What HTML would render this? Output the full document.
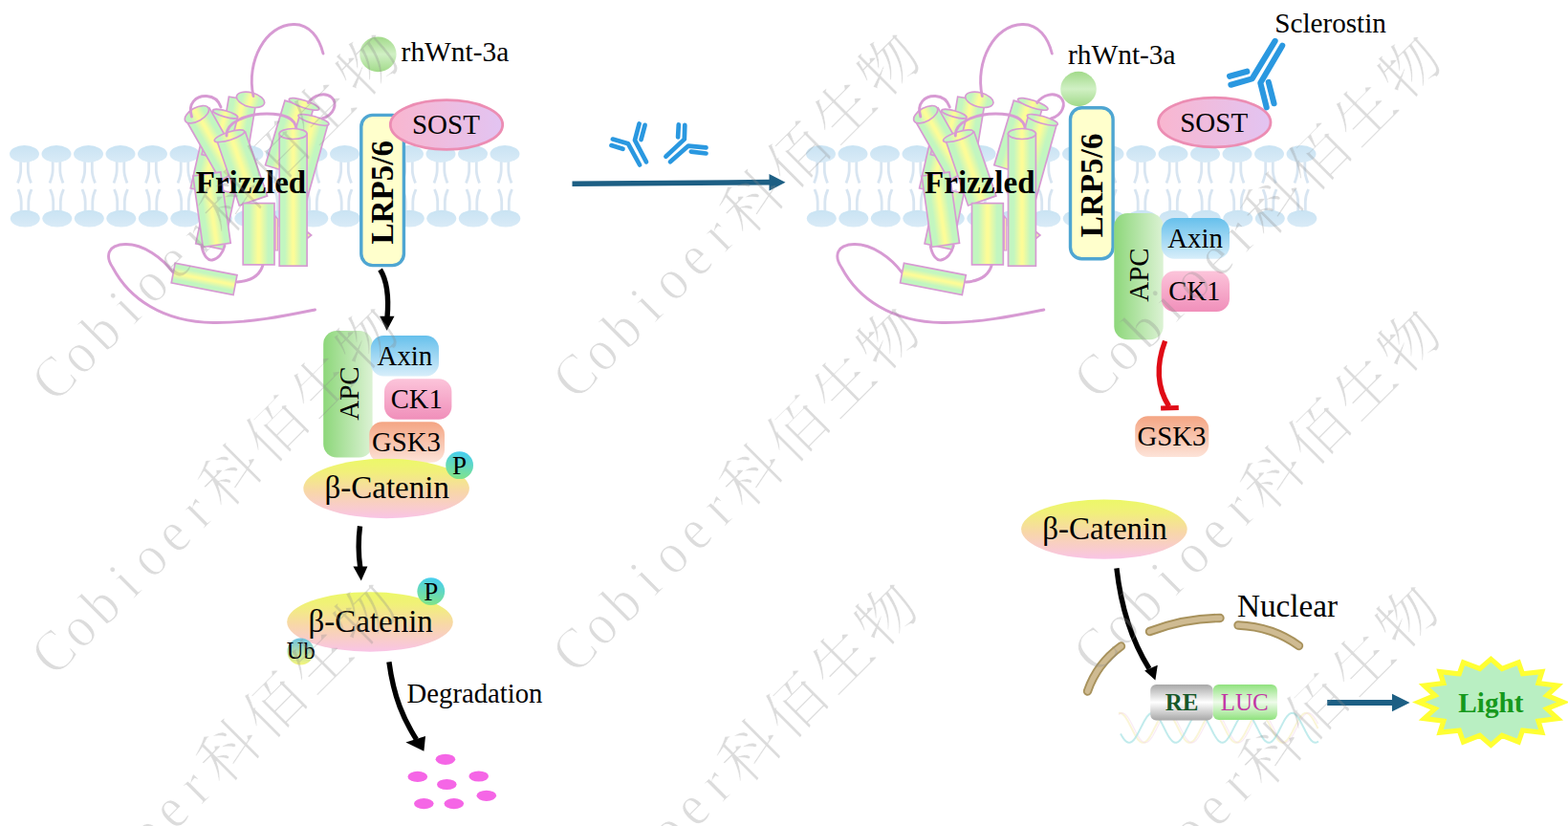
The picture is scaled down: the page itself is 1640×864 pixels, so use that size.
<!DOCTYPE html>
<html lang="en"><head><meta charset="utf-8"><title>Wnt signaling reporter assay</title>
<style>
html,body{margin:0;padding:0;background:#fff;}
body{width:1640px;height:864px;overflow:hidden;font-family:"Liberation Serif","Noto Serif CJK SC",serif;}
svg{display:block;}
</style></head><body>
<svg width="1640" height="864" viewBox="0 0 1640 864" role="img" aria-label="Wnt signaling reporter assay diagram">
<rect width="1640" height="864" fill="#fff"/>

<defs>
<linearGradient id="gHead" x1="0" y1="0" x2="0" y2="1"><stop offset="0" stop-color="#c9e3f3"/><stop offset="1" stop-color="#d9ebf7"/></linearGradient>
<linearGradient id="gCyl" x1="0" y1="0" x2="1" y2="0"><stop offset="0" stop-color="#c2f6c0"/><stop offset="0.2" stop-color="#c2f6c0"/><stop offset="0.47" stop-color="#fcfc98"/><stop offset="0.53" stop-color="#fcfc98"/><stop offset="0.8" stop-color="#c2f6c0"/><stop offset="1" stop-color="#c2f6c0"/></linearGradient>
<linearGradient id="gCylV" x1="0" y1="0" x2="0" y2="1"><stop offset="0" stop-color="#c2f6c0"/><stop offset="0.2" stop-color="#c2f6c0"/><stop offset="0.47" stop-color="#fcfc98"/><stop offset="0.53" stop-color="#fcfc98"/><stop offset="0.8" stop-color="#c2f6c0"/><stop offset="1" stop-color="#c2f6c0"/></linearGradient>
<linearGradient id="gSost" x1="0" y1="0" x2="1" y2="0"><stop offset="0" stop-color="#f9b6cf"/><stop offset="1" stop-color="#e2c4f2"/></linearGradient>
<linearGradient id="gApc" x1="0" y1="0" x2="1" y2="0"><stop offset="0" stop-color="#8dd77a"/><stop offset="1" stop-color="#dcf2d4"/></linearGradient>
<linearGradient id="gAxin" x1="0" y1="0" x2="0" y2="1"><stop offset="0" stop-color="#66c0ec"/><stop offset="1" stop-color="#d8eefa"/></linearGradient>
<linearGradient id="gCk" x1="0" y1="0" x2="0" y2="1"><stop offset="0" stop-color="#fcc4da"/><stop offset="1" stop-color="#f08fba"/></linearGradient>
<linearGradient id="gGsk" x1="0" y1="0" x2="0" y2="1"><stop offset="0" stop-color="#f4a583"/><stop offset="1" stop-color="#fde3d8"/></linearGradient>
<linearGradient id="gCat" x1="0" y1="0" x2="0" y2="1"><stop offset="0" stop-color="#ecf868"/><stop offset="0.22" stop-color="#f1f07a"/><stop offset="0.55" stop-color="#f8d7a8"/><stop offset="1" stop-color="#f9c4e6"/></linearGradient>
<linearGradient id="gP" x1="0.6" y1="0" x2="0.4" y2="1"><stop offset="0" stop-color="#46cef2"/><stop offset="1" stop-color="#82e486"/></linearGradient>
<linearGradient id="gUb" x1="0" y1="0" x2="0" y2="1"><stop offset="0" stop-color="#6cc4e4"/><stop offset="1" stop-color="#f6f67a"/></linearGradient>
<linearGradient id="gWnt" x1="0" y1="0" x2="0" y2="1"><stop offset="0" stop-color="#a2da8a"/><stop offset="0.5" stop-color="#d0f0c4"/><stop offset="1" stop-color="#a2da8a"/></linearGradient>
<linearGradient id="gRE" x1="0" y1="0" x2="0" y2="1"><stop offset="0" stop-color="#a8a8a8"/><stop offset="0.5" stop-color="#ffffff"/><stop offset="1" stop-color="#a8a8a8"/></linearGradient>
<linearGradient id="gLUC" x1="0" y1="0" x2="0" y2="1"><stop offset="0" stop-color="#90e27e"/><stop offset="0.5" stop-color="#eefbea"/><stop offset="1" stop-color="#90e27e"/></linearGradient>
</defs>

<g>
<path d="M21.7,168 V178 Q21.7,183 18.5,191.5 M29.3,168 V178 Q29.3,183 32.5,191.5 M19.0,198 Q22.2,205 22.2,211 V222 M33.0,198 Q29.8,205 29.8,211 V222" fill="none" stroke="#d8e5f1" stroke-width="2.8"/>
<ellipse cx="25.5" cy="161" rx="15.5" ry="8.9" fill="url(#gHead)"/>
<ellipse cx="26.3" cy="228.6" rx="15.5" ry="8.9" fill="url(#gHead)"/>
<path d="M55.2,168 V178 Q55.2,183 52.0,191.5 M62.8,168 V178 Q62.8,183 66.0,191.5 M52.5,198 Q55.7,205 55.7,211 V222 M66.5,198 Q63.3,205 63.3,211 V222" fill="none" stroke="#d8e5f1" stroke-width="2.8"/>
<ellipse cx="59.0" cy="161" rx="15.5" ry="8.9" fill="url(#gHead)"/>
<ellipse cx="59.8" cy="228.6" rx="15.5" ry="8.9" fill="url(#gHead)"/>
<path d="M88.7,168 V178 Q88.7,183 85.5,191.5 M96.3,168 V178 Q96.3,183 99.5,191.5 M86.0,198 Q89.2,205 89.2,211 V222 M100.0,198 Q96.8,205 96.8,211 V222" fill="none" stroke="#d8e5f1" stroke-width="2.8"/>
<ellipse cx="92.5" cy="161" rx="15.5" ry="8.9" fill="url(#gHead)"/>
<ellipse cx="93.3" cy="228.6" rx="15.5" ry="8.9" fill="url(#gHead)"/>
<path d="M122.2,168 V178 Q122.2,183 119.0,191.5 M129.8,168 V178 Q129.8,183 133.0,191.5 M119.5,198 Q122.7,205 122.7,211 V222 M133.5,198 Q130.3,205 130.3,211 V222" fill="none" stroke="#d8e5f1" stroke-width="2.8"/>
<ellipse cx="126.0" cy="161" rx="15.5" ry="8.9" fill="url(#gHead)"/>
<ellipse cx="126.8" cy="228.6" rx="15.5" ry="8.9" fill="url(#gHead)"/>
<path d="M155.7,168 V178 Q155.7,183 152.5,191.5 M163.3,168 V178 Q163.3,183 166.5,191.5 M153.0,198 Q156.2,205 156.2,211 V222 M167.0,198 Q163.8,205 163.8,211 V222" fill="none" stroke="#d8e5f1" stroke-width="2.8"/>
<ellipse cx="159.5" cy="161" rx="15.5" ry="8.9" fill="url(#gHead)"/>
<ellipse cx="160.3" cy="228.6" rx="15.5" ry="8.9" fill="url(#gHead)"/>
<path d="M189.2,168 V178 Q189.2,183 186.0,191.5 M196.8,168 V178 Q196.8,183 200.0,191.5 M186.5,198 Q189.7,205 189.7,211 V222 M200.5,198 Q197.3,205 197.3,211 V222" fill="none" stroke="#d8e5f1" stroke-width="2.8"/>
<ellipse cx="193.0" cy="161" rx="15.5" ry="8.9" fill="url(#gHead)"/>
<ellipse cx="193.8" cy="228.6" rx="15.5" ry="8.9" fill="url(#gHead)"/>
<path d="M222.7,168 V178 Q222.7,183 219.5,191.5 M230.3,168 V178 Q230.3,183 233.5,191.5 M220.0,198 Q223.2,205 223.2,211 V222 M234.0,198 Q230.8,205 230.8,211 V222" fill="none" stroke="#d8e5f1" stroke-width="2.8"/>
<ellipse cx="226.5" cy="161" rx="15.5" ry="8.9" fill="url(#gHead)"/>
<ellipse cx="227.3" cy="228.6" rx="15.5" ry="8.9" fill="url(#gHead)"/>
<path d="M256.2,168 V178 Q256.2,183 253.0,191.5 M263.8,168 V178 Q263.8,183 267.0,191.5 M253.5,198 Q256.7,205 256.7,211 V222 M267.5,198 Q264.3,205 264.3,211 V222" fill="none" stroke="#d8e5f1" stroke-width="2.8"/>
<ellipse cx="260.0" cy="161" rx="15.5" ry="8.9" fill="url(#gHead)"/>
<ellipse cx="260.8" cy="228.6" rx="15.5" ry="8.9" fill="url(#gHead)"/>
<path d="M289.7,168 V178 Q289.7,183 286.5,191.5 M297.3,168 V178 Q297.3,183 300.5,191.5 M287.0,198 Q290.2,205 290.2,211 V222 M301.0,198 Q297.8,205 297.8,211 V222" fill="none" stroke="#d8e5f1" stroke-width="2.8"/>
<ellipse cx="293.5" cy="161" rx="15.5" ry="8.9" fill="url(#gHead)"/>
<ellipse cx="294.3" cy="228.6" rx="15.5" ry="8.9" fill="url(#gHead)"/>
<path d="M323.2,168 V178 Q323.2,183 320.0,191.5 M330.8,168 V178 Q330.8,183 334.0,191.5 M320.5,198 Q323.7,205 323.7,211 V222 M334.5,198 Q331.3,205 331.3,211 V222" fill="none" stroke="#d8e5f1" stroke-width="2.8"/>
<ellipse cx="327.0" cy="161" rx="15.5" ry="8.9" fill="url(#gHead)"/>
<ellipse cx="327.8" cy="228.6" rx="15.5" ry="8.9" fill="url(#gHead)"/>
<path d="M356.7,168 V178 Q356.7,183 353.5,191.5 M364.3,168 V178 Q364.3,183 367.5,191.5 M354.0,198 Q357.2,205 357.2,211 V222 M368.0,198 Q364.8,205 364.8,211 V222" fill="none" stroke="#d8e5f1" stroke-width="2.8"/>
<ellipse cx="360.5" cy="161" rx="15.5" ry="8.9" fill="url(#gHead)"/>
<ellipse cx="361.3" cy="228.6" rx="15.5" ry="8.9" fill="url(#gHead)"/>
<path d="M390.2,168 V178 Q390.2,183 387.0,191.5 M397.8,168 V178 Q397.8,183 401.0,191.5 M387.5,198 Q390.7,205 390.7,211 V222 M401.5,198 Q398.3,205 398.3,211 V222" fill="none" stroke="#d8e5f1" stroke-width="2.8"/>
<ellipse cx="394.0" cy="161" rx="15.5" ry="8.9" fill="url(#gHead)"/>
<ellipse cx="394.8" cy="228.6" rx="15.5" ry="8.9" fill="url(#gHead)"/>
<path d="M423.7,168 V178 Q423.7,183 420.5,191.5 M431.3,168 V178 Q431.3,183 434.5,191.5 M421.0,198 Q424.2,205 424.2,211 V222 M435.0,198 Q431.8,205 431.8,211 V222" fill="none" stroke="#d8e5f1" stroke-width="2.8"/>
<ellipse cx="427.5" cy="161" rx="15.5" ry="8.9" fill="url(#gHead)"/>
<ellipse cx="428.3" cy="228.6" rx="15.5" ry="8.9" fill="url(#gHead)"/>
<path d="M457.2,168 V178 Q457.2,183 454.0,191.5 M464.8,168 V178 Q464.8,183 468.0,191.5 M454.5,198 Q457.7,205 457.7,211 V222 M468.5,198 Q465.3,205 465.3,211 V222" fill="none" stroke="#d8e5f1" stroke-width="2.8"/>
<ellipse cx="461.0" cy="161" rx="15.5" ry="8.9" fill="url(#gHead)"/>
<ellipse cx="461.8" cy="228.6" rx="15.5" ry="8.9" fill="url(#gHead)"/>
<path d="M490.7,168 V178 Q490.7,183 487.5,191.5 M498.3,168 V178 Q498.3,183 501.5,191.5 M488.0,198 Q491.2,205 491.2,211 V222 M502.0,198 Q498.8,205 498.8,211 V222" fill="none" stroke="#d8e5f1" stroke-width="2.8"/>
<ellipse cx="494.5" cy="161" rx="15.5" ry="8.9" fill="url(#gHead)"/>
<ellipse cx="495.3" cy="228.6" rx="15.5" ry="8.9" fill="url(#gHead)"/>
<path d="M524.2,168 V178 Q524.2,183 521.0,191.5 M531.8,168 V178 Q531.8,183 535.0,191.5 M521.5,198 Q524.7,205 524.7,211 V222 M535.5,198 Q532.3,205 532.3,211 V222" fill="none" stroke="#d8e5f1" stroke-width="2.8"/>
<ellipse cx="528.0" cy="161" rx="15.5" ry="8.9" fill="url(#gHead)"/>
<ellipse cx="528.8" cy="228.6" rx="15.5" ry="8.9" fill="url(#gHead)"/>
</g>
<g>
<path d="M854.7,168 V178 Q854.7,183 851.5,191.5 M862.3,168 V178 Q862.3,183 865.5,191.5 M852.0,198 Q855.2,205 855.2,211 V222 M866.0,198 Q862.8,205 862.8,211 V222" fill="none" stroke="#d8e5f1" stroke-width="2.8"/>
<ellipse cx="858.5" cy="161" rx="15.5" ry="8.9" fill="url(#gHead)"/>
<ellipse cx="859.3" cy="228.6" rx="15.5" ry="8.9" fill="url(#gHead)"/>
<path d="M888.2,168 V178 Q888.2,183 885.0,191.5 M895.8,168 V178 Q895.8,183 899.0,191.5 M885.5,198 Q888.7,205 888.7,211 V222 M899.5,198 Q896.3,205 896.3,211 V222" fill="none" stroke="#d8e5f1" stroke-width="2.8"/>
<ellipse cx="892.0" cy="161" rx="15.5" ry="8.9" fill="url(#gHead)"/>
<ellipse cx="892.8" cy="228.6" rx="15.5" ry="8.9" fill="url(#gHead)"/>
<path d="M921.7,168 V178 Q921.7,183 918.5,191.5 M929.3,168 V178 Q929.3,183 932.5,191.5 M919.0,198 Q922.2,205 922.2,211 V222 M933.0,198 Q929.8,205 929.8,211 V222" fill="none" stroke="#d8e5f1" stroke-width="2.8"/>
<ellipse cx="925.5" cy="161" rx="15.5" ry="8.9" fill="url(#gHead)"/>
<ellipse cx="926.3" cy="228.6" rx="15.5" ry="8.9" fill="url(#gHead)"/>
<path d="M955.2,168 V178 Q955.2,183 952.0,191.5 M962.8,168 V178 Q962.8,183 966.0,191.5 M952.5,198 Q955.7,205 955.7,211 V222 M966.5,198 Q963.3,205 963.3,211 V222" fill="none" stroke="#d8e5f1" stroke-width="2.8"/>
<ellipse cx="959.0" cy="161" rx="15.5" ry="8.9" fill="url(#gHead)"/>
<ellipse cx="959.8" cy="228.6" rx="15.5" ry="8.9" fill="url(#gHead)"/>
<path d="M988.7,168 V178 Q988.7,183 985.5,191.5 M996.3,168 V178 Q996.3,183 999.5,191.5 M986.0,198 Q989.2,205 989.2,211 V222 M1000.0,198 Q996.8,205 996.8,211 V222" fill="none" stroke="#d8e5f1" stroke-width="2.8"/>
<ellipse cx="992.5" cy="161" rx="15.5" ry="8.9" fill="url(#gHead)"/>
<ellipse cx="993.3" cy="228.6" rx="15.5" ry="8.9" fill="url(#gHead)"/>
<path d="M1022.2,168 V178 Q1022.2,183 1019.0,191.5 M1029.8,168 V178 Q1029.8,183 1033.0,191.5 M1019.5,198 Q1022.7,205 1022.7,211 V222 M1033.5,198 Q1030.3,205 1030.3,211 V222" fill="none" stroke="#d8e5f1" stroke-width="2.8"/>
<ellipse cx="1026.0" cy="161" rx="15.5" ry="8.9" fill="url(#gHead)"/>
<ellipse cx="1026.8" cy="228.6" rx="15.5" ry="8.9" fill="url(#gHead)"/>
<path d="M1055.7,168 V178 Q1055.7,183 1052.5,191.5 M1063.3,168 V178 Q1063.3,183 1066.5,191.5 M1053.0,198 Q1056.2,205 1056.2,211 V222 M1067.0,198 Q1063.8,205 1063.8,211 V222" fill="none" stroke="#d8e5f1" stroke-width="2.8"/>
<ellipse cx="1059.5" cy="161" rx="15.5" ry="8.9" fill="url(#gHead)"/>
<ellipse cx="1060.3" cy="228.6" rx="15.5" ry="8.9" fill="url(#gHead)"/>
<path d="M1089.2,168 V178 Q1089.2,183 1086.0,191.5 M1096.8,168 V178 Q1096.8,183 1100.0,191.5 M1086.5,198 Q1089.7,205 1089.7,211 V222 M1100.5,198 Q1097.3,205 1097.3,211 V222" fill="none" stroke="#d8e5f1" stroke-width="2.8"/>
<ellipse cx="1093.0" cy="161" rx="15.5" ry="8.9" fill="url(#gHead)"/>
<ellipse cx="1093.8" cy="228.6" rx="15.5" ry="8.9" fill="url(#gHead)"/>
<path d="M1122.7,168 V178 Q1122.7,183 1119.5,191.5 M1130.3,168 V178 Q1130.3,183 1133.5,191.5 M1120.0,198 Q1123.2,205 1123.2,211 V222 M1134.0,198 Q1130.8,205 1130.8,211 V222" fill="none" stroke="#d8e5f1" stroke-width="2.8"/>
<ellipse cx="1126.5" cy="161" rx="15.5" ry="8.9" fill="url(#gHead)"/>
<ellipse cx="1127.3" cy="228.6" rx="15.5" ry="8.9" fill="url(#gHead)"/>
<path d="M1156.2,168 V178 Q1156.2,183 1153.0,191.5 M1163.8,168 V178 Q1163.8,183 1167.0,191.5 M1153.5,198 Q1156.7,205 1156.7,211 V222 M1167.5,198 Q1164.3,205 1164.3,211 V222" fill="none" stroke="#d8e5f1" stroke-width="2.8"/>
<ellipse cx="1160.0" cy="161" rx="15.5" ry="8.9" fill="url(#gHead)"/>
<ellipse cx="1160.8" cy="228.6" rx="15.5" ry="8.9" fill="url(#gHead)"/>
<path d="M1189.7,168 V178 Q1189.7,183 1186.5,191.5 M1197.3,168 V178 Q1197.3,183 1200.5,191.5 M1187.0,198 Q1190.2,205 1190.2,211 V222 M1201.0,198 Q1197.8,205 1197.8,211 V222" fill="none" stroke="#d8e5f1" stroke-width="2.8"/>
<ellipse cx="1193.5" cy="161" rx="15.5" ry="8.9" fill="url(#gHead)"/>
<ellipse cx="1194.3" cy="228.6" rx="15.5" ry="8.9" fill="url(#gHead)"/>
<path d="M1223.2,168 V178 Q1223.2,183 1220.0,191.5 M1230.8,168 V178 Q1230.8,183 1234.0,191.5 M1220.5,198 Q1223.7,205 1223.7,211 V222 M1234.5,198 Q1231.3,205 1231.3,211 V222" fill="none" stroke="#d8e5f1" stroke-width="2.8"/>
<ellipse cx="1227.0" cy="161" rx="15.5" ry="8.9" fill="url(#gHead)"/>
<ellipse cx="1227.8" cy="228.6" rx="15.5" ry="8.9" fill="url(#gHead)"/>
<path d="M1256.7,168 V178 Q1256.7,183 1253.5,191.5 M1264.3,168 V178 Q1264.3,183 1267.5,191.5 M1254.0,198 Q1257.2,205 1257.2,211 V222 M1268.0,198 Q1264.8,205 1264.8,211 V222" fill="none" stroke="#d8e5f1" stroke-width="2.8"/>
<ellipse cx="1260.5" cy="161" rx="15.5" ry="8.9" fill="url(#gHead)"/>
<ellipse cx="1261.3" cy="228.6" rx="15.5" ry="8.9" fill="url(#gHead)"/>
<path d="M1290.2,168 V178 Q1290.2,183 1287.0,191.5 M1297.8,168 V178 Q1297.8,183 1301.0,191.5 M1287.5,198 Q1290.7,205 1290.7,211 V222 M1301.5,198 Q1298.3,205 1298.3,211 V222" fill="none" stroke="#d8e5f1" stroke-width="2.8"/>
<ellipse cx="1294.0" cy="161" rx="15.5" ry="8.9" fill="url(#gHead)"/>
<ellipse cx="1294.8" cy="228.6" rx="15.5" ry="8.9" fill="url(#gHead)"/>
<path d="M1323.7,168 V178 Q1323.7,183 1320.5,191.5 M1331.3,168 V178 Q1331.3,183 1334.5,191.5 M1321.0,198 Q1324.2,205 1324.2,211 V222 M1335.0,198 Q1331.8,205 1331.8,211 V222" fill="none" stroke="#d8e5f1" stroke-width="2.8"/>
<ellipse cx="1327.5" cy="161" rx="15.5" ry="8.9" fill="url(#gHead)"/>
<ellipse cx="1328.3" cy="228.6" rx="15.5" ry="8.9" fill="url(#gHead)"/>
<path d="M1357.2,168 V178 Q1357.2,183 1354.0,191.5 M1364.8,168 V178 Q1364.8,183 1368.0,191.5 M1354.5,198 Q1357.7,205 1357.7,211 V222 M1368.5,198 Q1365.3,205 1365.3,211 V222" fill="none" stroke="#d8e5f1" stroke-width="2.8"/>
<ellipse cx="1361.0" cy="161" rx="15.5" ry="8.9" fill="url(#gHead)"/>
<ellipse cx="1361.8" cy="228.6" rx="15.5" ry="8.9" fill="url(#gHead)"/>
</g>
<g transform="translate(0,0)">
<path d="M181,285 C170,270 150,255 131,255.5 C112,256 110,268 118,280 C135,312 170,337 223,337.5 C262,338 300,330 329.5,324" fill="none" stroke="#d79ad3" stroke-width="2.9" stroke-linecap="round"/>
<path d="M248,295 C262,294 272,288 275,277" fill="none" stroke="#d79ad3" stroke-width="2.9" stroke-linecap="round"/>
<path d="M211,258 C213,268 218,273 222,272 C228,271 233,265 235,257" fill="none" stroke="#d79ad3" stroke-width="2.9" stroke-linecap="round"/>
<g transform="translate(231.6,199.3) rotate(12.0)"><rect x="-14.7" y="0" width="29.3" height="60.0" fill="url(#gCyl)" stroke="#d79ad3" stroke-width="1.7"/></g>
<g transform="translate(224.0,151.0) rotate(12.7)"><rect x="-14.0" y="0" width="28.0" height="50.2" fill="url(#gCyl)" stroke="#d79ad3" stroke-width="1.7"/></g>
<g transform="translate(253.7,103.5) rotate(9.4)"><rect x="-14.5" y="0" width="29.0" height="65.4" fill="url(#gCyl)" stroke="#d79ad3" stroke-width="1.7"/></g><ellipse cx="0" cy="0" rx="15" ry="7.5" fill="url(#gCyl)" stroke="#d79ad3" stroke-width="1.7" transform="translate(262,104.3) rotate(14.8)"/>
<g transform="translate(235.6,119.1) rotate(14.2)"><rect x="-13.4" y="0" width="26.8" height="47.3" fill="url(#gCyl)" stroke="#d79ad3" stroke-width="1.7"/></g><ellipse cx="0" cy="0" rx="13.4" ry="3.2" fill="url(#gCyl)" stroke="#d79ad3" stroke-width="1.7" transform="translate(235.6,119.1) rotate(15.5)"/>
<g transform="translate(312.8,109.6) rotate(16.8)"><rect x="-15.5" y="0" width="31.0" height="70.7" fill="url(#gCyl)" stroke="#d79ad3" stroke-width="1.7"/></g><ellipse cx="0" cy="0" rx="16.5" ry="3.8" fill="url(#gCyl)" stroke="#d79ad3" stroke-width="1.7" transform="translate(318,108.9) rotate(18.4)"/>
<g transform="translate(328.0,126.0) rotate(15.6)"><rect x="-15.5" y="0" width="31.0" height="82.0" fill="url(#gCyl)" stroke="#d79ad3" stroke-width="1.7"/></g><ellipse cx="0" cy="0" rx="16.6" ry="3.8" fill="url(#gCyl)" stroke="#d79ad3" stroke-width="1.7" transform="translate(328,125.4) rotate(16.3)"/>
<g transform="translate(207.0,119.7) rotate(-29.7)"><rect x="-13.8" y="0" width="27.5" height="71.7" fill="url(#gCyl)" stroke="#d79ad3" stroke-width="1.7"/></g><ellipse cx="0" cy="0" rx="13.9" ry="7" fill="url(#gCyl)" stroke="#d79ad3" stroke-width="1.7" transform="translate(205.9,119.7) rotate(-29.6)"/>
<g transform="translate(216.3,182.1) rotate(-8.0)"><rect x="-14.6" y="0" width="29.2" height="75.0" fill="url(#gCyl)" stroke="#d79ad3" stroke-width="1.7"/></g>
<g transform="translate(241.9,143.1) rotate(-19.0)"><rect x="-15.5" y="0" width="31.0" height="70.7" fill="url(#gCyl)" stroke="#d79ad3" stroke-width="1.7"/></g><ellipse cx="0" cy="0" rx="16.4" ry="4.2" fill="url(#gCyl)" stroke="#d79ad3" stroke-width="1.7" transform="translate(240,142.2) rotate(-17.5)"/>
<path d="M237,142 C236,128 258,119 279,119 C298,119 309,124 310,135" fill="none" stroke="#d79ad3" stroke-width="2.9" stroke-linecap="round"/>
<g transform="translate(270.6,212.6) rotate(0.0)"><rect x="-16.4" y="0" width="32.8" height="64.3" fill="url(#gCyl)" stroke="#d79ad3" stroke-width="1.7"/></g>
<path d="M320,241.5 L325.6,246 L320,250.5 z" fill="#e9f7a8" stroke="#d79ad3" stroke-width="1.7" stroke-linejoin="miter"/>
<path d="M288,226 L290.5,229 L290.5,262 L288,262 z" fill="#fbe9b0" stroke="#d79ad3" stroke-width="1.2"/>
<g transform="translate(306.6,140.0) rotate(0.0)"><rect x="-14.4" y="0" width="28.9" height="138.2" fill="url(#gCyl)" stroke="#d79ad3" stroke-width="1.7"/></g><ellipse cx="0" cy="0" rx="14.45" ry="5.5" fill="url(#gCyl)" stroke="#d79ad3" stroke-width="1.7" transform="translate(306.6,140) rotate(0)"/>
<g transform="translate(181.2,285.6) rotate(10.9)"><rect x="0" y="-10.5" width="66" height="21" fill="url(#gCylV)" stroke="#d79ad3" stroke-width="1.7"/></g>
<path d="M200.5,122 C196,108 205,100 216,100.5 C224,101 229,106 231,112" fill="none" stroke="#d79ad3" stroke-width="2.9" stroke-linecap="round"/>
<path d="M322.5,107.5 C328,99 340,96 347,102 C353,108 350,120 337,124" fill="none" stroke="#d79ad3" stroke-width="2.9" stroke-linecap="round"/>
<path d="M265,100.5 C257,64 278,26 307,25.5 C324,25 334,40 338,56" fill="none" stroke="#d79ad3" stroke-width="2.9" stroke-linecap="round"/>
</g>
<g transform="translate(762.3,0)">
<path d="M181,285 C170,270 150,255 131,255.5 C112,256 110,268 118,280 C135,312 170,337 223,337.5 C262,338 300,330 329.5,324" fill="none" stroke="#d79ad3" stroke-width="2.9" stroke-linecap="round"/>
<path d="M248,295 C262,294 272,288 275,277" fill="none" stroke="#d79ad3" stroke-width="2.9" stroke-linecap="round"/>
<path d="M211,258 C213,268 218,273 222,272 C228,271 233,265 235,257" fill="none" stroke="#d79ad3" stroke-width="2.9" stroke-linecap="round"/>
<g transform="translate(231.6,199.3) rotate(12.0)"><rect x="-14.7" y="0" width="29.3" height="60.0" fill="url(#gCyl)" stroke="#d79ad3" stroke-width="1.7"/></g>
<g transform="translate(224.0,151.0) rotate(12.7)"><rect x="-14.0" y="0" width="28.0" height="50.2" fill="url(#gCyl)" stroke="#d79ad3" stroke-width="1.7"/></g>
<g transform="translate(253.7,103.5) rotate(9.4)"><rect x="-14.5" y="0" width="29.0" height="65.4" fill="url(#gCyl)" stroke="#d79ad3" stroke-width="1.7"/></g><ellipse cx="0" cy="0" rx="15" ry="7.5" fill="url(#gCyl)" stroke="#d79ad3" stroke-width="1.7" transform="translate(262,104.3) rotate(14.8)"/>
<g transform="translate(235.6,119.1) rotate(14.2)"><rect x="-13.4" y="0" width="26.8" height="47.3" fill="url(#gCyl)" stroke="#d79ad3" stroke-width="1.7"/></g><ellipse cx="0" cy="0" rx="13.4" ry="3.2" fill="url(#gCyl)" stroke="#d79ad3" stroke-width="1.7" transform="translate(235.6,119.1) rotate(15.5)"/>
<g transform="translate(312.8,109.6) rotate(16.8)"><rect x="-15.5" y="0" width="31.0" height="70.7" fill="url(#gCyl)" stroke="#d79ad3" stroke-width="1.7"/></g><ellipse cx="0" cy="0" rx="16.5" ry="3.8" fill="url(#gCyl)" stroke="#d79ad3" stroke-width="1.7" transform="translate(318,108.9) rotate(18.4)"/>
<g transform="translate(328.0,126.0) rotate(15.6)"><rect x="-15.5" y="0" width="31.0" height="82.0" fill="url(#gCyl)" stroke="#d79ad3" stroke-width="1.7"/></g><ellipse cx="0" cy="0" rx="16.6" ry="3.8" fill="url(#gCyl)" stroke="#d79ad3" stroke-width="1.7" transform="translate(328,125.4) rotate(16.3)"/>
<g transform="translate(207.0,119.7) rotate(-29.7)"><rect x="-13.8" y="0" width="27.5" height="71.7" fill="url(#gCyl)" stroke="#d79ad3" stroke-width="1.7"/></g><ellipse cx="0" cy="0" rx="13.9" ry="7" fill="url(#gCyl)" stroke="#d79ad3" stroke-width="1.7" transform="translate(205.9,119.7) rotate(-29.6)"/>
<g transform="translate(216.3,182.1) rotate(-8.0)"><rect x="-14.6" y="0" width="29.2" height="75.0" fill="url(#gCyl)" stroke="#d79ad3" stroke-width="1.7"/></g>
<g transform="translate(241.9,143.1) rotate(-19.0)"><rect x="-15.5" y="0" width="31.0" height="70.7" fill="url(#gCyl)" stroke="#d79ad3" stroke-width="1.7"/></g><ellipse cx="0" cy="0" rx="16.4" ry="4.2" fill="url(#gCyl)" stroke="#d79ad3" stroke-width="1.7" transform="translate(240,142.2) rotate(-17.5)"/>
<path d="M237,142 C236,128 258,119 279,119 C298,119 309,124 310,135" fill="none" stroke="#d79ad3" stroke-width="2.9" stroke-linecap="round"/>
<g transform="translate(270.6,212.6) rotate(0.0)"><rect x="-16.4" y="0" width="32.8" height="64.3" fill="url(#gCyl)" stroke="#d79ad3" stroke-width="1.7"/></g>
<path d="M320,241.5 L325.6,246 L320,250.5 z" fill="#e9f7a8" stroke="#d79ad3" stroke-width="1.7" stroke-linejoin="miter"/>
<path d="M288,226 L290.5,229 L290.5,262 L288,262 z" fill="#fbe9b0" stroke="#d79ad3" stroke-width="1.2"/>
<g transform="translate(306.6,140.0) rotate(0.0)"><rect x="-14.4" y="0" width="28.9" height="138.2" fill="url(#gCyl)" stroke="#d79ad3" stroke-width="1.7"/></g><ellipse cx="0" cy="0" rx="14.45" ry="5.5" fill="url(#gCyl)" stroke="#d79ad3" stroke-width="1.7" transform="translate(306.6,140) rotate(0)"/>
<g transform="translate(181.2,285.6) rotate(10.9)"><rect x="0" y="-10.5" width="66" height="21" fill="url(#gCylV)" stroke="#d79ad3" stroke-width="1.7"/></g>
<path d="M200.5,122 C196,108 205,100 216,100.5 C224,101 229,106 231,112" fill="none" stroke="#d79ad3" stroke-width="2.9" stroke-linecap="round"/>
<path d="M322.5,107.5 C328,99 340,96 347,102 C353,108 350,120 337,124" fill="none" stroke="#d79ad3" stroke-width="2.9" stroke-linecap="round"/>
<path d="M265,100.5 C257,64 278,26 307,25.5 C324,25 334,40 338,56" fill="none" stroke="#d79ad3" stroke-width="2.9" stroke-linecap="round"/>
</g>
<text x="262.5" y="202" font-size="33" font-family="Liberation Serif, serif" text-anchor="middle" font-weight="bold" fill="#000">Frizzled</text>
<text x="1024.8" y="202" font-size="33" font-family="Liberation Serif, serif" text-anchor="middle" font-weight="bold" fill="#000">Frizzled</text>
<rect x="377.8" y="120.4" width="44.6" height="157.2" rx="12" ry="12" fill="#ffffcc" stroke="#4fa6d2" stroke-width="3.4"/><text x="411.0" y="201.2" font-size="33.2" font-family="Liberation Serif, serif" text-anchor="middle" font-weight="bold" fill="#000" transform="rotate(-90 411.0 201.2)">LRP5/6</text>
<rect x="1119.5" y="112.7" width="44.6" height="158" rx="12" ry="12" fill="#ffffcc" stroke="#4fa6d2" stroke-width="3.4"/><text x="1152.7" y="193.89999999999998" font-size="33.2" font-family="Liberation Serif, serif" text-anchor="middle" font-weight="bold" fill="#000" transform="rotate(-90 1152.7 193.89999999999998)">LRP5/6</text>
<ellipse cx="467" cy="130.5" rx="58.7" ry="25.8" fill="url(#gSost)" stroke="#ec8db3" stroke-width="2.8"/><text x="466.4" y="140.0" font-size="29" font-family="Liberation Serif, serif" text-anchor="middle" font-weight="normal" fill="#000">SOST</text>
<ellipse cx="1270.3" cy="128" rx="58.7" ry="25.8" fill="url(#gSost)" stroke="#ec8db3" stroke-width="2.8"/><text x="1269.7" y="137.5" font-size="29" font-family="Liberation Serif, serif" text-anchor="middle" font-weight="normal" fill="#000">SOST</text>
<ellipse cx="395.4" cy="56.8" rx="19.2" ry="18.4" fill="url(#gWnt)"/>
<text x="419.6" y="63.7" font-size="29.4" font-family="Liberation Serif, serif" text-anchor="start" font-weight="normal" fill="#000">rhWnt-3a</text>
<ellipse cx="1128" cy="93" rx="18.8" ry="18.2" fill="url(#gWnt)"/>
<text x="1117" y="66.8" font-size="29.4" font-family="Liberation Serif, serif" text-anchor="start" font-weight="normal" fill="#000">rhWnt-3a</text>
<text x="1333.2" y="34.3" font-size="29.2" font-family="Liberation Serif, serif" text-anchor="start" font-weight="normal" fill="#000">Sclerostin</text>
<rect x="338.2" y="346" width="51.4" height="132.5" rx="14" ry="14" fill="url(#gApc)"/>
<text x="375.4" y="411.6" font-size="29" font-family="Liberation Serif, serif" text-anchor="middle" font-weight="normal" fill="#000" transform="rotate(-90 375.4 411.6)">APC</text>
<rect x="387.8" y="351" width="71.2" height="42.5" rx="13.5" ry="13.5" fill="url(#gAxin)"/>
<text x="423.4" y="382.2" font-size="28.8" font-family="Liberation Serif, serif" text-anchor="middle" font-weight="normal" fill="#000">Axin</text>
<rect x="402" y="396.3" width="70.4" height="42.5" rx="13.5" ry="13.5" fill="url(#gCk)"/>
<text x="435.7" y="427" font-size="28.6" font-family="Liberation Serif, serif" text-anchor="middle" font-weight="normal" fill="#000">CK1</text>
<rect x="386.2" y="441.2" width="78.8" height="42.5" rx="13.5" ry="13.5" fill="url(#gGsk)"/>
<text x="424.9" y="472" font-size="28.8" font-family="Liberation Serif, serif" text-anchor="middle" font-weight="normal" fill="#000">GSK3</text>
<rect x="1165.3" y="223" width="51.4" height="132.3" rx="14" ry="14" fill="url(#gApc)"/>
<text x="1201" y="287.5" font-size="29" font-family="Liberation Serif, serif" text-anchor="middle" font-weight="normal" fill="#000" transform="rotate(-90 1201 287.5)">APC</text>
<rect x="1214.7" y="228" width="71.3" height="42.8" rx="13.5" ry="13.5" fill="url(#gAxin)"/>
<text x="1250" y="258.8" font-size="28.8" font-family="Liberation Serif, serif" text-anchor="middle" font-weight="normal" fill="#000">Axin</text>
<rect x="1214.7" y="283.6" width="71.3" height="42.4" rx="13.5" ry="13.5" fill="url(#gCk)"/>
<text x="1249.3" y="313.9" font-size="28.6" font-family="Liberation Serif, serif" text-anchor="middle" font-weight="normal" fill="#000">CK1</text>
<rect x="1187.2" y="435.3" width="77.1" height="42.7" rx="13.5" ry="13.5" fill="url(#gGsk)"/>
<text x="1225.4" y="466.3" font-size="28.8" font-family="Liberation Serif, serif" text-anchor="middle" font-weight="normal" fill="#000">GSK3</text>
<ellipse cx="404.1" cy="511" rx="86.8" ry="31.2" fill="url(#gCat)"/><text x="404.70000000000005" y="521.4" font-size="33" font-family="Liberation Serif, serif" text-anchor="middle" font-weight="normal" fill="#000">β-Catenin</text>
<ellipse cx="387" cy="650.5" rx="86.8" ry="31.2" fill="url(#gCat)"/><text x="387.6" y="660.9" font-size="33" font-family="Liberation Serif, serif" text-anchor="middle" font-weight="normal" fill="#000">β-Catenin</text>
<ellipse cx="1154.9" cy="553.6" rx="86.8" ry="31.2" fill="url(#gCat)"/><text x="1155.5" y="564.0" font-size="33" font-family="Liberation Serif, serif" text-anchor="middle" font-weight="normal" fill="#000">β-Catenin</text>
<circle cx="480.6" cy="486.7" r="14.4" fill="url(#gP)"/><text x="480.6" y="495.8" font-size="27" font-family="Liberation Serif, serif" text-anchor="middle" font-weight="normal" fill="#000">P</text>
<circle cx="450.8" cy="618.6" r="14.4" fill="url(#gP)"/><text x="450.8" y="627.7" font-size="27" font-family="Liberation Serif, serif" text-anchor="middle" font-weight="normal" fill="#000">P</text>
<circle cx="314.4" cy="681.5" r="14" fill="url(#gUb)"/>
<text x="314.7" y="689.3" font-size="24.5" font-family="Liberation Serif, serif" text-anchor="middle" font-weight="normal" fill="#000">Ub</text>
<path d="M397.6,282 C404.5,293 407,309 405,332" fill="none" stroke="#000" stroke-width="5.4"/><path d="M404.6,345.8 L397.2,330.8 L412.5,330.8 z" fill="#000"/>
<path d="M376.5,550.3 C374.6,565 374.8,580 376.8,594" fill="none" stroke="#000" stroke-width="5.4"/><path d="M377.8,607.6 L369.4,592.5 L384.4,592.5 z" fill="#000"/>
<path d="M406.9,692.3 C412,730 422,752 435.5,773.5" fill="none" stroke="#000" stroke-width="5.4"/><path d="M443.4,785.8 L424.4,776.6 L445,770 z" fill="#000"/>
<path d="M1167.9,594.4 C1173,640 1186,674 1202,699.5" fill="none" stroke="#000" stroke-width="5.4"/><path d="M1208.4,711.6 L1197.2,701.4 L1210.8,695.8 z" fill="#000"/>
<text x="425.6" y="735.2" font-size="28.7" font-family="Liberation Serif, serif" text-anchor="start" font-weight="normal" fill="#000">Degradation</text>
<text x="1294" y="645.4" font-size="33.2" font-family="Liberation Serif, serif" text-anchor="start" font-weight="normal" fill="#000">Nuclear</text>
<path d="M598.5,192.3 L806,190.6" stroke="#1d5f84" stroke-width="5.6" fill="none"/><path d="M804.5,182 L821.5,190.8 L804.5,199.6 z" fill="#1d5f84"/>
<path d="M1388.2,735 L1457,735" stroke="#1d5f84" stroke-width="6" fill="none"/><path d="M1456,725.8 L1474.6,735 L1456,744.2 z" fill="#1d5f84"/>
<path d="M1218.6,356.6 C1209,382 1210,405 1222.6,425" fill="none" stroke="#e00b16" stroke-width="5.4"/><path d="M1214.1,427 L1232.8,426.4" stroke="#e00b16" stroke-width="5" fill="none"/>
<path d="M640.8,145.6 L657,150.3 L669.1,172.5 M668.6,129.4 L664,146.6 L676,169.3 M639.4,152.1 L651.5,155.8 M674.6,130.8 L670.5,146.1" fill="none" stroke="#2a98e0" stroke-width="4.7" stroke-linecap="round" stroke-linejoin="round"/>
<path d="M716.3,130.8 L715.8,145.6 L696.4,163.7 M738.5,154.4 L720,152.6 L701,169.3 M709.8,130.4 L709.1,143.3 M738.5,160.5 L722.8,158.6" fill="none" stroke="#2a98e0" stroke-width="4.7" stroke-linecap="round" stroke-linejoin="round"/>
<path d="M1333.6,42.9 L1309.6,82.4 L1287.4,88.7 M1341.2,47.7 L1318.3,86.8 L1324.7,112.3 M1286.1,79.8 L1304.3,74.7 M1326.8,85.9 L1332.5,108.2" fill="none" stroke="#2a98e0" stroke-width="6.1" stroke-linecap="round" stroke-linejoin="round"/>
<ellipse cx="465.9" cy="794.3" rx="10.3" ry="5.6" fill="#f566e6"/>
<ellipse cx="436.8" cy="812.4" rx="10.3" ry="5.6" fill="#f566e6"/>
<ellipse cx="500.7" cy="812" rx="10.3" ry="5.6" fill="#f566e6"/>
<ellipse cx="467.3" cy="820.5" rx="10.3" ry="5.6" fill="#f566e6"/>
<ellipse cx="508.8" cy="832.3" rx="10.3" ry="5.6" fill="#f566e6"/>
<ellipse cx="443.3" cy="840.6" rx="10.3" ry="5.6" fill="#f566e6"/>
<ellipse cx="474.8" cy="840.6" rx="10.3" ry="5.6" fill="#f566e6"/>
<path d="M1137.5,723 C1144,704 1156,688 1172.5,676" fill="none" stroke="#a8925c" stroke-width="9.4" stroke-linecap="round"/><path d="M1137.5,723 C1144,704 1156,688 1172.5,676" fill="none" stroke="#cfbb92" stroke-width="5.6" stroke-linecap="round"/>
<path d="M1202.5,660.5 C1228,651 1252,646.5 1276,646.5" fill="none" stroke="#a8925c" stroke-width="9.4" stroke-linecap="round"/><path d="M1202.5,660.5 C1228,651 1252,646.5 1276,646.5" fill="none" stroke="#cfbb92" stroke-width="5.6" stroke-linecap="round"/>
<path d="M1295,654 C1318,655 1340,662 1358.5,675.5" fill="none" stroke="#a8925c" stroke-width="9.4" stroke-linecap="round"/><path d="M1295,654 C1318,655 1340,662 1358.5,675.5" fill="none" stroke="#cfbb92" stroke-width="5.6" stroke-linecap="round"/>
<polyline points="1170.0,746.0 1171.5,745.8 1173.0,746.2 1174.5,747.2 1176.0,748.7 1177.5,750.7 1179.0,753.1 1180.5,755.8 1182.0,758.7 1183.5,761.6 1185.0,764.6 1186.5,767.5 1188.0,770.1 1189.5,772.4 1191.0,774.3 1192.5,775.7 1194.0,776.5 1195.5,776.8 1197.0,776.5 1198.5,775.7 1200.0,774.3 1201.5,772.4 1203.0,770.1 1204.5,767.5 1206.0,764.6 1207.5,761.6 1209.0,758.7 1210.5,755.8 1212.0,753.1 1213.5,750.7 1215.0,748.7 1216.5,747.2 1218.0,746.2 1219.5,745.8 1221.0,746.0 1222.5,746.7 1224.0,748.0 1225.5,749.7 1227.0,751.9 1228.5,754.5 1230.0,757.3 1231.5,760.3 1233.0,763.2 1234.5,766.2 1236.0,768.9 1237.5,771.4 1239.0,773.4 1240.5,775.1 1242.0,776.2 1243.5,776.7 1245.0,776.7 1246.5,776.1 1248.0,775.0 1249.5,773.3 1251.0,771.2 1252.5,768.7 1254.0,766.0 1255.5,763.0 1257.0,760.1 1258.5,757.1 1260.0,754.3 1261.5,751.8 1263.0,749.6 1264.5,747.9 1266.0,746.6 1267.5,745.9 1269.0,745.8 1270.5,746.3 1272.0,747.3 1273.5,748.9 1275.0,750.9 1276.5,753.3 1278.0,756.0 1279.5,758.9 1281.0,761.8 1282.5,764.8 1284.0,767.7 1285.5,770.3 1287.0,772.5 1288.5,774.4 1290.0,775.7 1291.5,776.5 1293.0,776.8 1294.5,776.5 1296.0,775.6 1297.5,774.1 1299.0,772.2 1300.5,769.9 1302.0,767.3 1303.5,764.4 1305.0,761.4 1306.5,758.5 1308.0,755.6 1309.5,752.9 1311.0,750.6 1312.5,748.6 1314.0,747.1 1315.5,746.2 1317.0,745.8 1318.5,746.0 1320.0,746.8 1321.5,748.1 1323.0,749.9 1324.5,752.1 1326.0,754.7 1327.5,757.5 1329.0,760.5 1330.5,763.4 1332.0,766.4 1333.5,769.1 1335.0,771.5 1336.5,773.6 1338.0,775.2 1339.5,776.2 1341.0,776.8 1342.5,776.7 1344.0,776.1 1345.5,774.9 1347.0,773.2 1348.5,771.1 1350.0,768.6 1351.5,765.8 1353.0,762.8 1354.5,759.9 1356.0,756.9 1357.5,754.1 1359.0,751.6 1360.5,749.5 1362.0,747.8 1363.5,746.6 1365.0,745.9 1366.5,745.8 1368.0,746.3 1369.5,747.4 1371.0,749.0 1372.5,751.0 1374.0,753.4 1375.5,756.2 1377.0,759.1 1378.5,762.0" fill="none" stroke="#f6eebc" stroke-width="2.0" opacity="0.6" stroke-linejoin="round"/>
<polyline points="1170.0,747.5 1171.5,746.4 1173.0,745.9 1174.5,745.9 1176.0,746.5 1177.5,747.7 1179.0,749.3 1180.5,751.5 1182.0,754.0 1183.5,756.7 1185.0,759.7 1186.5,762.6 1188.0,765.6 1189.5,768.4 1191.0,770.9 1192.5,773.1 1194.0,774.8 1195.5,776.0 1197.0,776.7 1198.5,776.8 1200.0,776.3 1201.5,775.2 1203.0,773.7 1204.5,771.7 1206.0,769.3 1207.5,766.5 1209.0,763.6 1210.5,760.7 1212.0,757.7 1213.5,754.9 1215.0,752.3 1216.5,750.0 1218.0,748.2 1219.5,746.8 1221.0,746.0 1222.5,745.8 1224.0,746.1 1225.5,747.1 1227.0,748.5 1228.5,750.4 1230.0,752.8 1231.5,755.4 1233.0,758.3 1234.5,761.3 1236.0,764.2 1237.5,767.1 1239.0,769.8 1240.5,772.1 1242.0,774.0 1243.5,775.5 1245.0,776.4 1246.5,776.8 1248.0,776.6 1249.5,775.8 1251.0,774.5 1252.5,772.7 1254.0,770.4 1255.5,767.8 1257.0,765.0 1258.5,762.0 1260.0,759.1 1261.5,756.2 1263.0,753.4 1264.5,751.0 1266.0,749.0 1267.5,747.4 1269.0,746.3 1270.5,745.8 1272.0,745.9 1273.5,746.6 1275.0,747.8 1276.5,749.5 1278.0,751.6 1279.5,754.1 1281.0,756.9 1282.5,759.9 1284.0,762.8 1285.5,765.8 1287.0,768.6 1288.5,771.1 1290.0,773.2 1291.5,774.9 1293.0,776.1 1294.5,776.7 1296.0,776.8 1297.5,776.2 1299.0,775.2 1300.5,773.6 1302.0,771.5 1303.5,769.1 1305.0,766.4 1306.5,763.4 1308.0,760.5 1309.5,757.5 1311.0,754.7 1312.5,752.1 1314.0,749.9 1315.5,748.1 1317.0,746.8 1318.5,746.0 1320.0,745.8 1321.5,746.2 1323.0,747.1 1324.5,748.6 1326.0,750.6 1327.5,752.9 1329.0,755.6 1330.5,758.5 1332.0,761.4 1333.5,764.4 1335.0,767.3 1336.5,769.9 1338.0,772.2 1339.5,774.1 1341.0,775.6 1342.5,776.5 1344.0,776.8 1345.5,776.5 1347.0,775.7 1348.5,774.4 1350.0,772.5 1351.5,770.3 1353.0,767.7 1354.5,764.8 1356.0,761.8 1357.5,758.9 1359.0,756.0 1360.5,753.3 1362.0,750.9 1363.5,748.9 1365.0,747.3 1366.5,746.3 1368.0,745.8 1369.5,745.9 1371.0,746.6 1372.5,747.9 1374.0,749.6 1375.5,751.8 1377.0,754.3 1378.5,757.1" fill="none" stroke="#f3d6ea" stroke-width="1.2" opacity="0.5" stroke-linejoin="round"/>
<polyline points="1172.0,767.5 1173.5,770.1 1175.0,772.4 1176.5,774.3 1178.0,775.7 1179.5,776.5 1181.0,776.8 1182.5,776.5 1184.0,775.7 1185.5,774.3 1187.0,772.4 1188.5,770.1 1190.0,767.5 1191.5,764.6 1193.0,761.6 1194.5,758.7 1196.0,755.8 1197.5,753.1 1199.0,750.7 1200.5,748.7 1202.0,747.2 1203.5,746.2 1205.0,745.8 1206.5,746.0 1208.0,746.7 1209.5,748.0 1211.0,749.7 1212.5,751.9 1214.0,754.5 1215.5,757.3 1217.0,760.3 1218.5,763.2 1220.0,766.2 1221.5,768.9 1223.0,771.4 1224.5,773.4 1226.0,775.1 1227.5,776.2 1229.0,776.7 1230.5,776.7 1232.0,776.1 1233.5,775.0 1235.0,773.3 1236.5,771.2 1238.0,768.7 1239.5,766.0 1241.0,763.0 1242.5,760.1 1244.0,757.1 1245.5,754.3 1247.0,751.8 1248.5,749.6 1250.0,747.9 1251.5,746.6 1253.0,745.9 1254.5,745.8 1256.0,746.3 1257.5,747.3 1259.0,748.9 1260.5,750.9 1262.0,753.3 1263.5,756.0 1265.0,758.9 1266.5,761.8 1268.0,764.8 1269.5,767.7 1271.0,770.3 1272.5,772.5 1274.0,774.4 1275.5,775.7 1277.0,776.5 1278.5,776.8 1280.0,776.5 1281.5,775.6 1283.0,774.1 1284.5,772.2 1286.0,769.9 1287.5,767.3 1289.0,764.4 1290.5,761.4 1292.0,758.5 1293.5,755.6 1295.0,752.9 1296.5,750.6 1298.0,748.6 1299.5,747.1 1301.0,746.2 1302.5,745.8 1304.0,746.0 1305.5,746.8 1307.0,748.1 1308.5,749.9 1310.0,752.1 1311.5,754.7 1313.0,757.5 1314.5,760.5 1316.0,763.4 1317.5,766.4 1319.0,769.1 1320.5,771.5 1322.0,773.6 1323.5,775.2 1325.0,776.2 1326.5,776.8 1328.0,776.7 1329.5,776.1 1331.0,774.9 1332.5,773.2 1334.0,771.1 1335.5,768.6 1337.0,765.8 1338.5,762.8 1340.0,759.9 1341.5,756.9 1343.0,754.1 1344.5,751.6 1346.0,749.5 1347.5,747.8 1349.0,746.6 1350.5,745.9 1352.0,745.8 1353.5,746.3 1355.0,747.4 1356.5,749.0 1358.0,751.0 1359.5,753.4 1361.0,756.2 1362.5,759.1 1364.0,762.0 1365.5,765.0 1367.0,767.8 1368.5,770.4 1370.0,772.7 1371.5,774.5 1373.0,775.8 1374.5,776.6 1376.0,776.8 1377.5,776.4 1379.0,775.5" fill="none" stroke="#a6e2e4" stroke-width="2.0" opacity="0.7" stroke-linejoin="round"/>
<rect x="1203.2" y="716" width="65.5" height="37.4" rx="6" fill="url(#gRE)"/>
<rect x="1268.7" y="716" width="67.2" height="37" rx="6" fill="url(#gLUC)"/>
<text x="1236" y="742.8" font-size="25" font-family="Liberation Serif, serif" text-anchor="middle" font-weight="bold" fill="#17582a">RE</text>
<text x="1301.7" y="742.8" font-size="25" font-family="Liberation Serif, serif" text-anchor="middle" font-weight="normal" fill="#c235a4">LUC</text>
<polygon points="1559.4,689.4 1571.0,699.5 1588.3,692.8 1592.5,704.8 1612.8,702.6 1609.0,714.6 1629.2,717.2 1617.9,727.5 1634.9,734.4 1617.9,741.3 1629.2,751.6 1609.0,754.2 1612.8,766.2 1592.5,764.0 1588.3,776.0 1571.0,769.3 1559.4,779.4 1547.8,769.3 1530.5,776.0 1526.3,764.0 1506.0,766.2 1509.8,754.2 1489.6,751.6 1500.9,741.3 1483.9,734.4 1500.9,727.5 1489.6,717.2 1509.8,714.6 1506.0,702.6 1526.3,704.8 1530.5,692.8 1547.8,699.5" fill="#b9efc2" stroke="#ffff33" stroke-width="5.2" stroke-linejoin="miter"/>
<text x="1559.4" y="744.6" font-size="29.2" font-family="Liberation Serif, serif" text-anchor="middle" font-weight="bold" fill="#16991c">Light</text>
<mask id="wmMask" maskUnits="userSpaceOnUse" x="0" y="0" width="1640" height="864"><use href="#wmT" fill="#fff" stroke="#000"/></mask>
<g mask="url(#wmMask)" fill="#8c8c8c" fill-opacity="0.3" stroke="none"><g id="wmT" text-anchor="middle">
<text transform="rotate(-45 58.5 422) translate(58.5 422) scale(0.9 1)" x="19.4 58.3 97.2 136.1 175.0 213.9 252.8" y="0" font-size="62" font-family="Liberation Serif, serif" stroke-width="1.1">Cobioer</text><text transform="rotate(-45 58.5 422)" x="337.2 404.8 472.2 539.8" y="424.5" font-size="62" font-family="Liberation Serif, Noto Serif CJK SC, serif" font-weight="300" stroke-width="0.3">科佰生物</text>
<text transform="rotate(-45 603.5 419.5) translate(603.5 419.5) scale(0.9 1)" x="19.4 58.3 97.2 136.1 175.0 213.9 252.8" y="0" font-size="62" font-family="Liberation Serif, serif" stroke-width="1.1">Cobioer</text><text transform="rotate(-45 603.5 422)" x="882.2 949.8 1017.2 1084.8" y="424.5" font-size="62" font-family="Liberation Serif, Noto Serif CJK SC, serif" font-weight="300" stroke-width="0.3">科佰生物</text>
<text transform="rotate(-45 1148.5 419.5) translate(1148.5 419.5) scale(0.9 1)" x="19.4 58.3 97.2 136.1 175.0 213.9 252.8" y="0" font-size="62" font-family="Liberation Serif, serif" stroke-width="1.1">Cobioer</text><text transform="rotate(-45 1148.5 424.5)" x="1427.2 1494.8 1562.2 1629.8" y="427.0" font-size="62" font-family="Liberation Serif, Noto Serif CJK SC, serif" font-weight="300" stroke-width="0.3">科佰生物</text>
<text transform="rotate(-45 58 708.5) translate(58 708.5) scale(0.9 1)" x="19.4 58.3 97.2 136.1 175.0 213.9 252.8" y="0" font-size="62" font-family="Liberation Serif, serif" stroke-width="1.1">Cobioer</text><text transform="rotate(-45 58 708.5)" x="336.8 404.2 471.8 539.2" y="711.0" font-size="62" font-family="Liberation Serif, Noto Serif CJK SC, serif" font-weight="300" stroke-width="0.3">科佰生物</text>
<text transform="rotate(-45 603 706.0) translate(603 706.0) scale(0.9 1)" x="19.4 58.3 97.2 136.1 175.0 213.9 252.8" y="0" font-size="62" font-family="Liberation Serif, serif" stroke-width="1.1">Cobioer</text><text transform="rotate(-45 603 708.5)" x="881.8 949.2 1016.8 1084.2" y="711.0" font-size="62" font-family="Liberation Serif, Noto Serif CJK SC, serif" font-weight="300" stroke-width="0.3">科佰生物</text>
<text transform="rotate(-45 1148 706.0) translate(1148 706.0) scale(0.9 1)" x="19.4 58.3 97.2 136.1 175.0 213.9 252.8" y="0" font-size="62" font-family="Liberation Serif, serif" stroke-width="1.1">Cobioer</text><text transform="rotate(-45 1148 711.0)" x="1426.8 1494.2 1561.8 1629.2" y="713.5" font-size="62" font-family="Liberation Serif, Noto Serif CJK SC, serif" font-weight="300" stroke-width="0.3">科佰生物</text>
<text transform="rotate(-45 56 997) translate(56 997) scale(0.9 1)" x="19.4 58.3 97.2 136.1 175.0 213.9 252.8" y="0" font-size="62" font-family="Liberation Serif, serif" stroke-width="1.1">Cobioer</text><text transform="rotate(-45 56 997)" x="334.8 402.2 469.8 537.2" y="999.5" font-size="62" font-family="Liberation Serif, Noto Serif CJK SC, serif" font-weight="300" stroke-width="0.3">科佰生物</text>
<text transform="rotate(-45 601 994.5) translate(601 994.5) scale(0.9 1)" x="19.4 58.3 97.2 136.1 175.0 213.9 252.8" y="0" font-size="62" font-family="Liberation Serif, serif" stroke-width="1.1">Cobioer</text><text transform="rotate(-45 601 997)" x="879.8 947.2 1014.8 1082.2" y="999.5" font-size="62" font-family="Liberation Serif, Noto Serif CJK SC, serif" font-weight="300" stroke-width="0.3">科佰生物</text>
<text transform="rotate(-45 1146 994.5) translate(1146 994.5) scale(0.9 1)" x="19.4 58.3 97.2 136.1 175.0 213.9 252.8" y="0" font-size="62" font-family="Liberation Serif, serif" stroke-width="1.1">Cobioer</text><text transform="rotate(-45 1146 999.5)" x="1424.8 1492.2 1559.8 1627.2" y="1002.0" font-size="62" font-family="Liberation Serif, Noto Serif CJK SC, serif" font-weight="300" stroke-width="0.3">科佰生物</text>
</g></g>
</svg>
</body></html>
